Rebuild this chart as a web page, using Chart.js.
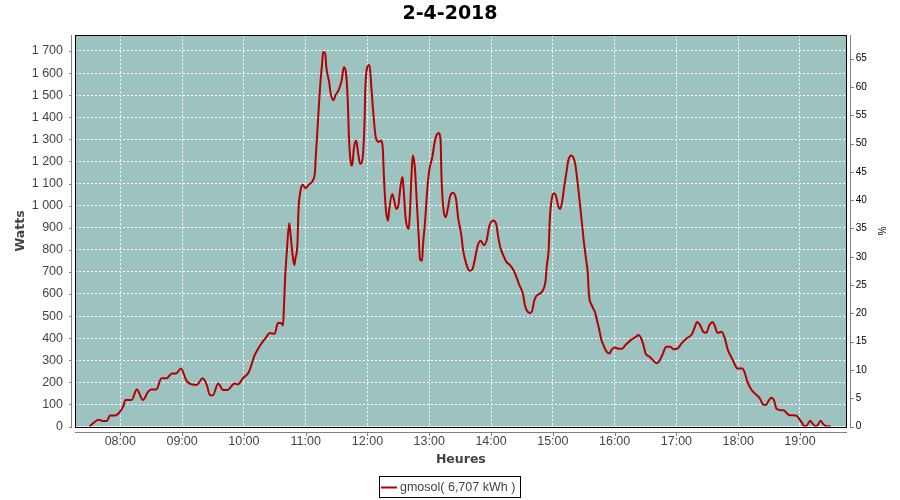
<!DOCTYPE html>
<html><head><meta charset="utf-8">
<script src="https://cdn.jsdelivr.net/npm/chart.js@4"></script>
<style>html,body{margin:0;padding:0;background:#fff}canvas{display:block}</style>
</head><body>
<canvas id="c" width="900" height="500"></canvas>
<script>
const chartTitle = "2-4-2018";
const seriesLabel = "gmosol( 6,707 kWh )";
const xAxisTitle = "Heures";
const yAxisTitle = "Watts";
const y2AxisTitle = "%";

const times = ["07:30","07:35","07:39","07:44","07:47","07:50","07:55","07:58","08:03","08:05","08:11","08:16","08:22","08:27","08:30","08:35","08:40","08:45","08:50","08:54","08:59","09:04","09:07","09:14","09:20","09:24","09:27","09:30","09:35","09:40","09:44","09:51","09:54","09:59","10:05","10:10","10:15","10:22","10:25","10:30","10:33","10:36","10:38","10:39","10:40","10:42","10:44","10:45","10:47","10:49","10:50","10:52","10:53","10:55","10:57","11:00","11:03","11:07","11:09","11:10","11:12","11:14","11:16","11:17","11:19","11:20","11:23","11:24","11:27","11:29","11:32","11:35","11:37","11:39","11:41","11:42","11:44","11:45","11:47","11:49","11:51","11:53","11:55","11:57","11:58","12:00","12:02","12:04","12:06","12:08","12:11","12:13","12:15","12:16","12:18","12:20","12:21","12:24","12:26","12:28","12:30","12:32","12:34","12:35","12:37","12:40","12:41","12:43","12:44","12:46","12:48","12:50","12:51","12:53","12:54","12:56","12:58","13:00","13:03","13:05","13:07","13:09","13:11","13:12","13:14","13:16","13:18","13:20","13:23","13:26","13:28","13:31","13:33","13:36","13:39","13:42","13:44","13:47","13:50","13:53","13:56","13:58","14:02","14:05","14:07","14:09","14:12","14:15","14:18","14:22","14:25","14:27","14:31","14:33","14:36","14:38","14:40","14:42","14:44","14:48","14:51","14:53","14:54","14:56","14:57","14:59","15:01","15:03","15:05","15:07","15:09","15:11","15:13","15:15","15:18","15:20","15:22","15:24","15:26","15:28","15:30","15:32","15:34","15:35","15:38","15:41","15:43","15:45","15:47","15:49","15:52","15:55","15:57","16:00","16:03","16:07","16:11","16:16","16:21","16:23","16:25","16:28","16:30","16:34","16:37","16:41","16:44","16:47","16:50","16:54","16:57","17:01","17:05","17:10","17:15","17:18","17:20","17:23","17:26","17:29","17:32","17:35","17:37","17:40","17:44","17:47","17:50","17:54","17:57","17:59","18:04","18:06","18:09","18:13","18:18","18:21","18:24","18:27","18:29","18:32","18:35","18:37","18:41","18:44","18:46","18:50","18:53","18:57","18:59","19:02","19:04","19:06","19:10","19:12","19:15","19:17","19:20","19:22","19:25","19:30"];
const watts = [0,20,30,25,25,50,50,58,92,120,120,168,120,158,168,168,218,218,240,240,263,210,195,188,218,188,142,142,195,165,165,195,190,218,248,317,361,406,423,420,468,468,457,550,667,811,920,886,788,730,760,826,977,1068,1094,1079,1095,1114,1152,1235,1386,1538,1644,1695,1689,1629,1553,1515,1477,1500,1523,1568,1626,1606,1462,1311,1189,1180,1265,1295,1235,1189,1205,1356,1538,1629,1636,1523,1402,1311,1288,1295,1250,1129,977,932,977,1053,1023,985,1000,1083,1129,1083,947,894,947,1159,1227,1174,1008,841,758,750,826,932,1068,1159,1220,1280,1318,1329,1295,1114,977,947,985,1038,1058,1030,947,871,795,735,705,712,750,818,841,821,848,902,933,917,857,812,774,744,733,706,673,646,600,547,517,514,525,570,591,603,623,661,721,804,933,1031,1056,1046,1001,985,1016,1084,1144,1204,1227,1217,1182,1106,1023,933,842,766,691,600,547,517,479,440,395,370,340,331,347,358,353,352,371,392,407,414,406,369,331,316,301,286,301,331,361,361,350,353,376,399,418,452,473,459,429,424,459,473,459,424,429,399,346,308,278,263,263,248,202,165,142,127,101,97,112,130,116,82,74,74,66,51,51,48,36,17,2,2,26,14,2,6,26,14,2,0];

const hourTicks = [8,9,10,11,12,13,14,15,16,17,18,19];
const hourLabels = ["08:00","09:00","10:00","11:00","12:00","13:00","14:00","15:00","16:00","17:00","18:00","19:00"];
const xMin = 7.267, xMax = 19.756;
const wattMin = 0, wattMax = 1771, wattStep = 100;
const pctMin = 0, pctMax = 69.14, pctStep = 5;

function toHours(t){ const p = t.split(':').map(Number); return p[0] + p[1]/60; }
const points = times.map((t,i) => ({x: toHours(t), y: watts[i]}));
function fmtThousands(v){ return String(Math.round(v)).replace(/\B(?=(\d{3})+(?!\d))/g, ' '); }

const LINE_COLOR = '#b40000';
const PLOT_BG = '#9dc3c1';
const AXIS_GRAY = '#808080';

const decor = {
  id: 'decor',
  beforeDraw(chart){
    const {ctx, chartArea: a} = chart;
    ctx.save();
    ctx.fillStyle = PLOT_BG;
    ctx.fillRect(a.left, a.top, a.right - a.left, a.bottom - a.top);
    ctx.restore();
  },
  afterDraw(chart){
    const {ctx, chartArea: a} = chart;
    const L = Math.round(a.left), R = Math.round(a.right) - 1, T = Math.round(a.top), B = Math.round(a.bottom);
    ctx.save();
    ctx.strokeStyle = '#000'; ctx.lineWidth = 1;
    ctx.strokeRect(L + 0.5, T + 0.5, R - L, B - T);
    ctx.strokeStyle = AXIS_GRAY;
    ctx.beginPath();
    ctx.moveTo(L - 3.5, T); ctx.lineTo(L - 3.5, B + 1);
    ctx.moveTo(L, B + 5.5); ctx.lineTo(R + 1, B + 5.5);
    ctx.moveTo(R + 4.5, T); ctx.lineTo(R + 4.5, B + 1);
    const ys = chart.scales.y, y1 = chart.scales.y1, xs = chart.scales.x;
    ys.ticks.forEach(t => { const p = Math.round(ys.getPixelForValue(t.value)) + 0.5; ctx.moveTo(L - 6, p); ctx.lineTo(L - 3, p); });
    y1.ticks.forEach(t => { const p = Math.round(y1.getPixelForValue(t.value)) + 0.5; ctx.moveTo(R + 5, p); ctx.lineTo(R + 8, p); });
    xs.ticks.forEach(t => { const p = Math.round(xs.getPixelForValue(t.value)) + 0.5; ctx.moveTo(p, B + 6); ctx.lineTo(p, B + 9); });
    ctx.stroke();
    const lx = 379.5, ly = 476.5, lw = 141, lh = 21;
    ctx.strokeStyle = '#000'; ctx.lineWidth = 1;
    ctx.strokeRect(lx, ly, lw, lh);
    ctx.strokeStyle = LINE_COLOR; ctx.lineWidth = 2;
    ctx.beginPath(); ctx.moveTo(381, 487.5); ctx.lineTo(397, 487.5); ctx.stroke();
    ctx.fillStyle = '#444';
    ctx.font = '12.5px "Liberation Sans"';
    ctx.textBaseline = 'middle'; ctx.textAlign = 'left';
    ctx.fillText(chart.data.datasets[0].label, 400, 488);
    ctx.restore();
  }
};

new Chart(document.getElementById('c'), {
  type: 'line',
  data: { datasets: [{
    label: seriesLabel, data: points, yAxisID: 'y',
    borderColor: LINE_COLOR, borderWidth: 2, pointRadius: 0,
    cubicInterpolationMode: 'monotone', fill: false
  }]},
  options: {
    responsive: false, animation: false, devicePixelRatio: 1,
    layout: { padding: { left: 0, right: 0, top: 0, bottom: 28.5 } },
    plugins: {
      legend: { display: false },
      tooltip: { enabled: false },
      title: { display: true, text: chartTitle, color: '#000',
        font: { family: 'DejaVu Sans', size: 19, weight: 'bold', lineHeight: 1.2 },
        padding: { top: 3, bottom: 9.5 } }
    },
    scales: {
      x: {
        type: 'linear', min: xMin, max: xMax,
        afterFit(s){ s.height = 45; },
        afterBuildTicks(s){ s.ticks = hourTicks.map(v => ({value: v})); },
        ticks: { autoSkip: false, maxRotation: 0, padding: 8, color: '#444',
          font: { family: 'Liberation Sans', size: 12.5 },
          callback: v => hourLabels[hourTicks.indexOf(v)] },
        grid: { color: '#fff', lineWidth: 1, drawTicks: false },
        border: { display: false, dash: [2, 2] },
        title: { display: true, text: xAxisTitle, color: '#444',
          font: { family: 'DejaVu Sans', size: 12.5, weight: 'bold' },
          padding: { top: 0, bottom: 4 } }
      },
      y: {
        position: 'left', min: wattMin, max: wattMax,
        afterFit(s){ s.width = 75; },
        ticks: { stepSize: wattStep, includeBounds: false, autoSkip: false, padding: 12, color: '#444',
          font: { family: 'Liberation Sans', size: 12.5 },
          callback: v => fmtThousands(v) },
        grid: { color: '#fff', lineWidth: 1, drawTicks: false },
        border: { display: false, dash: [2, 2] },
        title: { display: true, text: yAxisTitle, color: '#444',
          font: { family: 'DejaVu Sans', size: 12.5, weight: 'bold' },
          padding: { top: 13.5, bottom: 0 } }
      },
      y1: {
        position: 'right', min: pctMin, max: pctMax,
        afterFit(s){ s.width = 53.3; },
        ticks: { stepSize: pctStep, includeBounds: false, autoSkip: false, padding: 9, color: '#000',
          font: { family: 'Liberation Sans', size: 10 } },
        grid: { display: false, drawTicks: false },
        border: { display: false },
        title: { display: true, text: y2AxisTitle, color: '#000',
          font: { family: 'Liberation Sans', size: 10 },
          padding: { top: 13, bottom: 0 } }
      }
    }
  },
  plugins: [decor]
});
</script>
</body></html>
